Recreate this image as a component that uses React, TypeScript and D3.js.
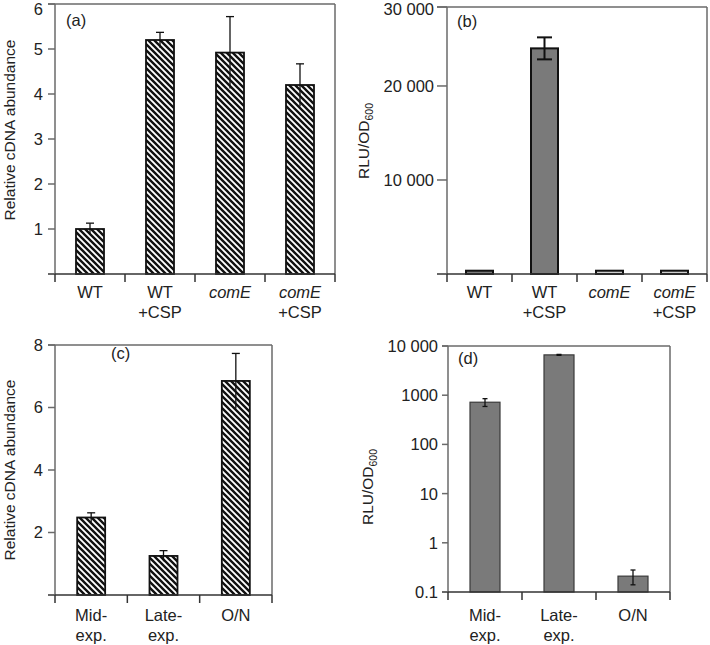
import React from 'react';
import * as d3 from 'd3';

// panel (a) and (b): strains, with / without CSP
const strains = ['WT', 'WT+CSP', 'comE', 'comE+CSP'];
const strainLines = [['WT'], ['WT', '+CSP'], ['comE'], ['comE', '+CSP']];
const strainItalic = [false, false, true, true];
const cdnaA = [1.0, 5.2, 4.92, 4.2];
const errA = [0.13, 0.17, 0.8, 0.47];
const rluB = [350, 24000, 350, 350];
const errB = [0, 1170, 0, 0];
const ticksA = [0, 1, 2, 3, 4, 5, 6];
const ticksB = [0, 10000, 20000, 28400];
const tickLabelsB = ['', '10 000', '20 000', '30 000'];

// panel (c) and (d): growth phases
const phases = ['Mid-exp.', 'Late-exp.', 'O/N'];
const phaseLines = [['Mid-', 'exp.'], ['Late-', 'exp.'], ['O/N']];
const cdnaC = [2.48, 1.25, 6.85];
const errC = [0.15, 0.17, 0.88];
const rluD = [720, 6600, 0.21];
const errD = [130, 150, 0.07];
const ticksC = [0, 2, 4, 6, 8];
const ticksD = [0.1, 1, 10, 100, 1000, 10000];
const tickLabelsD = ['0.1', '1', '10', '100', '1000', '10 000'];

const FONT = '"Liberation Sans", Arial, Helvetica, sans-serif';
const TEXT = '#222';
const FRAME = '#6a6a6a';
const FS = 16.5;

type PanelProps = {
  left: number; right: number; top: number; bottom: number;
  cats: string[]; lines: string[][]; italic: boolean[];
  vals: number[]; errs: number[];
  y: any; base: number;
  ticks: number[]; tickLabels: string[]; tickLen: number; labelGap: number;
  fills: string[]; stroke: string; strokeW: number; barW: number;
  capTopOnly: boolean; capW: number; errW: number;
  tag: string; tagX: number; tagY: number;
  yLabel: React.ReactNode; yLabelX: number; yLabelY: number;
  catY: number[];
};

const Panel = (p: PanelProps) => {
  const x = d3.scaleBand<string>().domain(p.cats).range([p.left, p.right]);
  const step = x.step();
  const bounds = d3.range(p.cats.length + 1).map((i) => p.left + i * step);
  return (
    <g>
      {/* bars */}
      {p.cats.map((c, i) => {
        const cx = (x(c) as number) + x.bandwidth() / 2;
        const yv = p.y(p.vals[i]);
        return (
          <rect key={c} x={cx - p.barW / 2} y={yv} width={p.barW}
            height={p.y(p.base) - yv} fill={p.fills[i]}
            stroke={p.stroke} strokeWidth={p.strokeW} />
        );
      })}
      {/* error bars */}
      {p.cats.map((c, i) => {
        if (!p.errs[i]) return null;
        const cx = (x(c) as number) + x.bandwidth() / 2;
        const hi = p.y(p.vals[i] + p.errs[i]);
        const lo = p.y(p.vals[i] - p.errs[i]);
        return (
          <g key={c + 'e'} stroke="#111" strokeWidth={p.errW}>
            <line x1={cx} x2={cx} y1={hi} y2={lo} />
            <line x1={cx - p.capW / 2} x2={cx + p.capW / 2} y1={hi} y2={hi} />
            {!p.capTopOnly && <line x1={cx - p.capW / 2} x2={cx + p.capW / 2} y1={lo} y2={lo} />}
          </g>
        );
      })}
      {/* frame */}
      <line x1={p.left - p.tickLen} x2={p.right} y1={p.top} y2={p.top} stroke={FRAME} strokeWidth={1.5} />
      <line x1={p.right} x2={p.right} y1={p.top} y2={p.bottom} stroke={FRAME} strokeWidth={1.5} />
      <line x1={p.left} x2={p.left} y1={p.top} y2={p.bottom} stroke={FRAME} strokeWidth={1.5} />
      <line x1={p.left - p.tickLen} x2={p.right} y1={p.bottom} y2={p.bottom} stroke="#333" strokeWidth={1.5} />
      {/* y ticks */}
      {p.ticks.map((t, i) => (
        <g key={'t' + i}>
          <line x1={p.left - p.tickLen} x2={p.left} y1={p.y(t)} y2={p.y(t)} stroke={FRAME} strokeWidth={1.5} />
          <text x={p.left - p.tickLen - p.labelGap} y={Math.max(p.y(t), 9)} dy="0.36em" textAnchor="end"
            fontSize={FS} fill={TEXT} fontFamily={FONT}>{p.tickLabels[i]}</text>
        </g>
      ))}
      {/* x ticks */}
      {bounds.map((bx, i) => (
        <line key={'b' + i} x1={bx} x2={bx} y1={p.bottom} y2={p.bottom + 8} stroke="#333" strokeWidth={1.5} />
      ))}
      {/* category labels */}
      {p.cats.map((c, i) => {
        const cx = (x(c) as number) + x.bandwidth() / 2;
        return p.lines[i].map((ln, j) => (
          <text key={c + j} x={cx} y={p.catY[j]} textAnchor="middle" fontSize={FS}
            fill={TEXT} fontFamily={FONT}
            fontStyle={p.italic[i] && j === 0 ? 'italic' : 'normal'}>{ln}</text>
        ));
      })}
      <text x={p.tagX} y={p.tagY} fontSize={FS} fill={TEXT} fontFamily={FONT}>{p.tag}</text>
      <text transform={`translate(${p.yLabelX},${p.yLabelY}) rotate(-90)`} textAnchor="middle"
        dy="0.36em" fontSize={15.5} fill={TEXT} fontFamily={FONT}>{p.yLabel}</text>
    </g>
  );
};

const rluLabel = (
  <>
    <tspan>RLU/OD</tspan>
    <tspan fontSize={10.5} dy={4}>600</tspan>
  </>
);

const App = () => {
  const yA = d3.scaleLinear().domain([0, 6]).range([274, 4]);
  const yB = d3.scaleLinear().domain([0, 28400]).range([274, 7]);
  const yC = d3.scaleLinear().domain([0, 8]).range([595, 345]);
  const yD = d3.scaleLog().domain([0.1, 10000]).range([592, 346]);

  return (
    <svg width={710} height={645} style={{ position: 'absolute', left: 0, top: 0, background: '#fff' }}>
      <defs>
        <pattern id="hatch" patternUnits="userSpaceOnUse" width={6} height={6}>
          <rect width={6} height={6} fill="#fff" />
          <path d="M-1,-1 L7,7 M-1,5 L1,7 M5,-1 L7,1" stroke="#111" strokeWidth={2.4} />
        </pattern>
      </defs>

      <Panel left={55} right={335} top={4} bottom={274}
        cats={strains} lines={strainLines} italic={strainItalic}
        vals={cdnaA} errs={errA} y={yA} base={0}
        ticks={ticksA} tickLabels={ticksA.map((t) => (t === 0 ? '' : String(t)))} tickLen={7} labelGap={5}
        fills={strains.map(() => 'url(#hatch)')} stroke="#111" strokeW={1.8} barW={28}
        capTopOnly={true} capW={8} errW={1.3}
        tag="(a)" tagX={66} tagY={26}
        yLabel="Relative cDNA abundance" yLabelX={9} yLabelY={130}
        catY={[298, 318]} />

      <Panel left={447} right={707} top={7} bottom={274}
        cats={strains} lines={strainLines} italic={strainItalic}
        vals={rluB} errs={errB} y={yB} base={0}
        ticks={ticksB} tickLabels={tickLabelsB} tickLen={10} labelGap={3}
        fills={['#7a7a7a', '#7a7a7a', '#cfcfcf', '#cfcfcf']} stroke="#111" strokeW={2} barW={27}
        capTopOnly={false} capW={15} errW={2}
        tag="(b)" tagX={457} tagY={27}
        yLabel={rluLabel} yLabelX={363} yLabelY={141}
        catY={[298, 318]} />

      <Panel left={55} right={272} top={345} bottom={595}
        cats={phases} lines={phaseLines} italic={[false, false, false]}
        vals={cdnaC} errs={errC} y={yC} base={0}
        ticks={ticksC} tickLabels={ticksC.map((t) => (t === 0 ? '' : String(t)))} tickLen={7} labelGap={5}
        fills={phases.map(() => 'url(#hatch)')} stroke="#111" strokeW={1.8} barW={28}
        capTopOnly={true} capW={8} errW={1.3}
        tag="(c)" tagX={111} tagY={359}
        yLabel="Relative cDNA abundance" yLabelX={9} yLabelY={470}
        catY={[621, 641]} />

      <Panel left={448} right={670} top={346} bottom={592}
        cats={phases} lines={phaseLines} italic={[false, false, false]}
        vals={rluD} errs={errD} y={yD} base={0.1}
        ticks={ticksD} tickLabels={tickLabelsD} tickLen={6} labelGap={4}
        fills={phases.map(() => '#7a7a7a')} stroke="#3a3a3a" strokeW={1.2} barW={30}
        capTopOnly={false} capW={5} errW={1.3}
        tag="(d)" tagX={458} tagY={364}
        yLabel={rluLabel} yLabelX={367} yLabelY={487}
        catY={[621, 641]} />
    </svg>
  );
};

export default App;
